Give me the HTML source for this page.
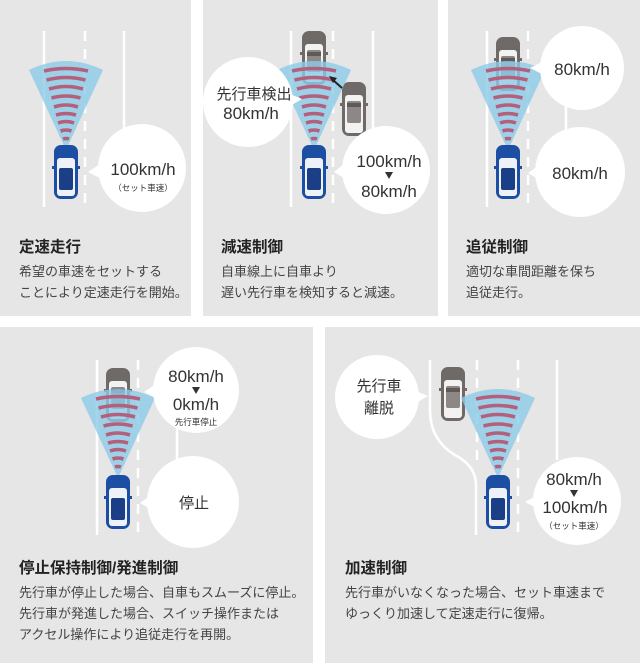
<!DOCTYPE html>
<html><head><meta charset="utf-8"><style>
html,body{margin:0;padding:0;background:#fff;}
svg{display:block;}
text{font-family:"Liberation Sans","Noto Sans CJK JP",sans-serif;fill:#333;}
.t{font-size:15.5px;font-weight:bold;fill:#222;}
.d{font-size:13px;fill:#444;}
.b{font-size:17px;fill:#333;}
.c{font-size:15px;fill:#333;}
</style></head><body>
<svg width="640" height="663" viewBox="0 0 640 663" xmlns="http://www.w3.org/2000/svg">
<defs>
<g id="fan">
<path d="M0,0 L-37,-80 Q0,-98 37,-80 Z" fill="#8ccbe7" opacity="0.8"/>
<g fill="none" stroke="#b3607c" stroke-width="3.6" stroke-linecap="butt">
<path d="M-22,-79 Q0,-84 22,-79"/>
<path d="M-19.5,-70 Q0,-75 19.5,-70"/>
<path d="M-17,-61 Q0,-66 17,-61"/>
<path d="M-14.5,-52 Q0,-56 14.5,-52"/>
<path d="M-12,-43 Q0,-47 12,-43"/>
<path d="M-10,-35 Q0,-38 10,-35"/>
<path d="M-8,-27 Q0,-30 8,-27"/>
<path d="M-5.5,-19 Q0,-21 5.5,-19"/>
<path d="M-3,-11 Q0,-12 3,-11"/>
</g>
</g>
<g id="gcar">
<rect x="-12" y="-27" width="24" height="54" rx="7" fill="#6f6a67"/>
<rect x="-9" y="-14" width="18" height="38" rx="3" fill="#f2f2f2"/>
<rect x="-7" y="-8" width="14" height="22" rx="2" fill="#8d8886"/>
<rect x="-7" y="-6" width="14" height="4" fill="#5f5a58"/>
<rect x="-14" y="-6" width="3" height="3" fill="#6f6a67"/>
<rect x="11" y="-6" width="3" height="3" fill="#6f6a67"/>
</g>
<g id="bcar">
<rect x="-12" y="-27" width="24" height="54" rx="7" fill="#1c4ea3"/>
<rect x="-9" y="-14" width="18" height="38" rx="3" fill="#eef2f8"/>
<rect x="-7" y="-4" width="14" height="22" rx="2" fill="#1a3f86"/>
<rect x="-14" y="-6" width="3" height="3" fill="#1c4ea3"/>
<rect x="11" y="-6" width="3" height="3" fill="#1c4ea3"/>
</g>
</defs>

<rect x="0" y="0" width="191" height="316" fill="#e6e6e6"/>
<rect x="203" y="0" width="235" height="316" fill="#e6e6e6"/>
<rect x="448" y="0" width="192" height="316" fill="#e6e6e6"/>
<rect x="0" y="327" width="313" height="336" fill="#e6e6e6"/>
<rect x="325" y="327" width="315" height="336" fill="#e6e6e6"/>

<!-- Panel 1 -->
<g stroke="#fff" stroke-width="2.5" fill="none">
<line x1="44" y1="31" x2="44" y2="207"/>
<line x1="85" y1="31" x2="85" y2="207" stroke-dasharray="10,8"/>
<line x1="124" y1="31" x2="124" y2="130"/>
</g>
<use href="#fan" x="66" y="150"/>
<use href="#bcar" x="66" y="172"/>
<circle cx="142" cy="168" r="44" fill="#fff"/>
<path d="M100,164 L88,172 L100,178 Z" fill="#fff"/>
<text class="b" x="143" y="175" text-anchor="middle">100km/h</text>
<text x="143" y="191" text-anchor="middle" font-size="8.5">（セット車速）</text>
<text class="t" x="19" y="252">定速走行</text>
<text class="d" x="19" y="276">希望の車速をセットする</text>
<text class="d" x="19" y="297">ことにより定速走行を開始。</text>

<!-- Panel 2 -->
<g stroke="#fff" stroke-width="2.5" fill="none">
<line x1="291" y1="31" x2="291" y2="207"/>
<line x1="333" y1="31" x2="333" y2="207" stroke-dasharray="10,8"/>
<line x1="373" y1="31" x2="373" y2="207"/>
</g>
<use href="#gcar" x="314" y="58"/>
<use href="#gcar" x="354" y="109"/>
<use href="#fan" x="314" y="150"/>
<use href="#bcar" x="314" y="172"/>
<line x1="342" y1="88" x2="333" y2="80" stroke="#222" stroke-width="2"/>
<path d="M329,76 L337,78 L333,83 Z" fill="#222"/>
<circle cx="248" cy="102" r="45" fill="#fff"/>
<path d="M290,94 L302,99 L290,106 Z" fill="#fff"/>
<text class="c" x="254" y="99" text-anchor="middle">先行車検出</text>
<text class="b" x="251" y="119" text-anchor="middle">80km/h</text>
<circle cx="386" cy="170" r="44" fill="#fff"/>
<path d="M344,164 L334,172 L344,178 Z" fill="#fff"/>
<text class="b" x="389" y="167" text-anchor="middle">100km/h</text>
<path d="M385,172 L393,172 L389,179 Z" fill="#333"/>
<text class="b" x="389" y="197" text-anchor="middle">80km/h</text>
<text class="t" x="221" y="252">減速制御</text>
<text class="d" x="221" y="276">自車線上に自車より</text>
<text class="d" x="221" y="297">遅い先行車を検知すると減速。</text>

<!-- Panel 3 -->
<g stroke="#fff" stroke-width="2.5" fill="none">
<line x1="487" y1="31" x2="487" y2="207"/>
<line x1="528" y1="31" x2="528" y2="207" stroke-dasharray="10,8"/>
<line x1="566" y1="95" x2="566" y2="140"/>
</g>
<use href="#gcar" x="508" y="64"/>
<use href="#fan" x="508" y="150"/>
<use href="#bcar" x="508" y="172"/>
<circle cx="582" cy="68" r="42" fill="#fff"/>
<path d="M542,62 L530,68 L542,74 Z" fill="#fff"/>
<text class="b" x="582" y="75" text-anchor="middle">80km/h</text>
<circle cx="580" cy="172" r="45" fill="#fff"/>
<path d="M538,166 L528,173 L538,179 Z" fill="#fff"/>
<text class="b" x="580" y="179" text-anchor="middle">80km/h</text>
<text class="t" x="466" y="252">追従制御</text>
<text class="d" x="466" y="276">適切な車間距離を保ち</text>
<text class="d" x="466" y="297">追従走行。</text>

<!-- Panel 4 -->
<g stroke="#fff" stroke-width="2.5" fill="none">
<line x1="97" y1="360" x2="97" y2="535"/>
<line x1="138" y1="360" x2="138" y2="535" stroke-dasharray="10,8"/>
<line x1="177" y1="420" x2="177" y2="470"/>
</g>
<use href="#gcar" x="118" y="395"/>
<use href="#fan" x="118" y="478"/>
<use href="#bcar" x="118" y="502"/>
<circle cx="196" cy="390" r="43" fill="#fff"/>
<path d="M156,384 L144,392 L156,398 Z" fill="#fff"/>
<text class="b" x="196" y="382" text-anchor="middle">80km/h</text>
<path d="M192,387 L200,387 L196,394 Z" fill="#333"/>
<text class="b" x="196" y="410" text-anchor="middle">0km/h</text>
<text x="196" y="425" text-anchor="middle" font-size="8.5">先行車停止</text>
<circle cx="193" cy="502" r="46" fill="#fff"/>
<path d="M150,496 L140,503 L150,509 Z" fill="#fff"/>
<text class="c" x="194" y="508" text-anchor="middle">停止</text>
<text class="t" x="19" y="573">停止保持制御/発進制御</text>
<text class="d" x="19" y="597">先行車が停止した場合、自車もスムーズに停止。</text>
<text class="d" x="19" y="618">先行車が発進した場合、スイッチ操作または</text>
<text class="d" x="19" y="639">アクセル操作により追従走行を再開。</text>

<!-- Panel 5 -->
<g stroke="#fff" stroke-width="2.5" fill="none">
<path d="M430,360 L430,410 Q430,440 455,455 Q476,466 476,485 L476,535"/>
<line x1="477" y1="360" x2="477" y2="465" stroke-dasharray="10,8"/>
<line x1="518" y1="360" x2="518" y2="535" stroke-dasharray="10,8"/>
<line x1="557" y1="360" x2="557" y2="460"/>
</g>
<use href="#gcar" x="453" y="394"/>
<use href="#fan" x="498" y="478"/>
<use href="#bcar" x="498" y="502"/>
<circle cx="377" cy="397" r="42" fill="#fff"/>
<path d="M416,391 L428,396 L416,403 Z" fill="#fff"/>
<text class="c" x="379" y="391" text-anchor="middle">先行車</text>
<text class="c" x="379" y="413" text-anchor="middle">離脱</text>
<circle cx="577" cy="501" r="44" fill="#fff"/>
<path d="M536,496 L525,502 L536,508 Z" fill="#fff"/>
<text class="b" x="574" y="485" text-anchor="middle">80km/h</text>
<path d="M570,490 L578,490 L574,497 Z" fill="#333"/>
<text class="b" x="575" y="513" text-anchor="middle">100km/h</text>
<text x="574" y="529" text-anchor="middle" font-size="8.5">（セット車速）</text>
<text class="t" x="345" y="573">加速制御</text>
<text class="d" x="345" y="597">先行車がいなくなった場合、セット車速まで</text>
<text class="d" x="345" y="618">ゆっくり加速して定速走行に復帰。</text>
</svg>
</body></html>
